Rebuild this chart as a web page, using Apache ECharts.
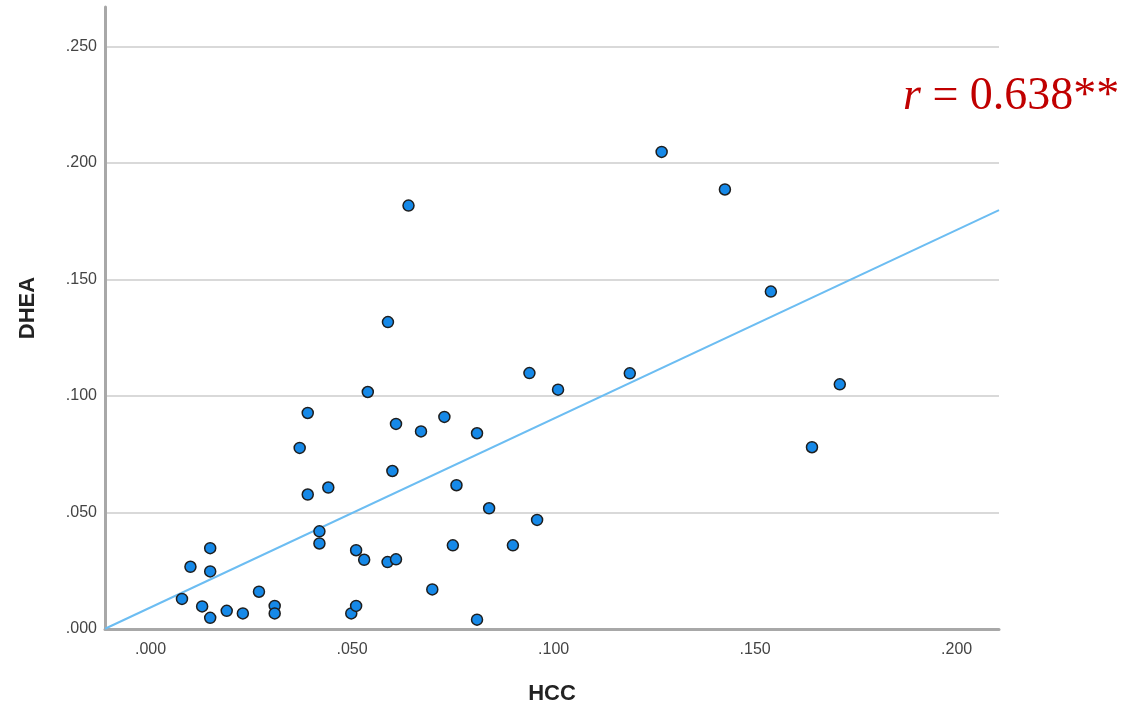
<!DOCTYPE html>
<html>
<head>
<meta charset="utf-8">
<script src="https://cdn.jsdelivr.net/npm/echarts@6/dist/echarts.min.js"></script>
<style>
html,body{margin:0;padding:0;background:#fff;}
#chart{width:1132px;height:710px;}
</style>
</head>
<body>
<div id="chart"></div>
<script>
// HCC values (x)
const hcc = [0.0078,0.0099,0.0148,0.0148,0.0128,0.0148,0.0189,0.0229,0.0269,0.0308,0.0308,
  0.0370,0.0390,0.0390,0.0441,0.0419,0.0419,0.0498,0.0510,0.0510,0.0530,0.0539,0.0588,0.0609,
  0.0600,0.0609,0.0671,0.0729,0.0699,0.0750,0.0759,0.0810,0.0840,0.0959,0.0899,0.0810,0.0640,
  0.0589,0.0940,0.1011,0.1189,0.1268,0.1425,0.1539,0.1641,0.1710];
// DHEA values (y)
const dhea = [0.0129,0.0267,0.0347,0.0247,0.0097,0.0048,0.0078,0.0067,0.0160,0.0099,0.0067,
  0.0777,0.0927,0.0577,0.0607,0.0419,0.0367,0.0067,0.0099,0.0338,0.0297,0.1017,0.0287,0.0299,
  0.0678,0.0880,0.0848,0.0910,0.0170,0.0359,0.0617,0.0840,0.0518,0.0468,0.0359,0.0040,0.1817,
  0.1317,0.1098,0.1027,0.1097,0.2047,0.1886,0.1448,0.0780,0.1050];
// fit line endpoints
const fitX = [-0.0113, 0.2105];
const fitY = [0.0001, 0.1797];
const xTicks = ['.000','.050','.100','.150','.200'];
const yTicks = ['.000','.050','.100','.150','.200','.250'];
const annotation = { r: 'r', rest: ' = 0.638**' };

const points = hcc.map((v, i) => [v, dhea[i]]);
const fitLine = fitX.map((v, i) => [v, fitY[i]]);
const tickLabel = (list) => (v) => {
  const q = v / 0.05;
  const k = Math.round(q);
  if (Math.abs(q - k) > 1e-6) return '';
  return list[k] !== undefined ? list[k] : '';
};

const chart = echarts.init(document.getElementById('chart'), null, {renderer: 'canvas'});
chart.setOption({
  animation: false,
  backgroundColor: '#ffffff',
  grid: {left: 105, top: 7, width: 894, height: 623, containLabel: false},
  xAxis: {
    type: 'value', min: -0.0113, max: 0.2105,
    name: 'HCC', nameLocation: 'middle', nameGap: 54,
    nameTextStyle: {fontFamily: 'Liberation Sans, Arial', fontWeight: 'bold', fontSize: 22, color: '#222'},
    axisLine: {show: true, onZero: false, lineStyle: {color: '#a8a8a8', width: 3}},
    axisTick: {show: false},
    splitLine: {show: false},
    axisLabel: {
      margin: 13, fontFamily: 'Liberation Sans, Arial', fontSize: 16, color: '#444',
      hideOverlap: false,
      formatter: tickLabel(xTicks)
    }
  },
  yAxis: {
    type: 'value', min: 0, max: 0.2669, interval: 0.05,
    name: 'DHEA', nameLocation: 'middle', nameGap: 66, nameRotate: 90,
    nameTextStyle: {fontFamily: 'Liberation Sans, Arial', fontWeight: 'bold', fontSize: 22, color: '#222', padding: [0, 0, 0, 20]},
    axisLine: {show: true, onZero: false, lineStyle: {color: '#a8a8a8', width: 3}},
    axisTick: {show: false},
    splitLine: {show: true, showMaxLine: false, lineStyle: {color: '#d9d9d9', width: 2}},
    axisLabel: {
      margin: 8, fontFamily: 'Liberation Sans, Arial', fontSize: 16, color: '#444',
      formatter: tickLabel(yTicks)
    }
  },
  series: [
    {
      type: 'line', data: fitLine, symbol: 'none', z: 2,
      lineStyle: {color: '#6cbdf2', width: 2}
    },
    {
      type: 'scatter', data: points, symbol: 'circle', symbolSize: 11, z: 3,
      itemStyle: {color: '#1689e8', borderColor: '#1e1e1e', borderWidth: 1.5, opacity: 1}
    }
  ],
  graphic: [{
    type: 'text', left: 903, top: 74,
    style: {
      text: '{i|' + annotation.r + '}{n|' + annotation.rest + '}',
      rich: {
        i: {fontFamily: 'Liberation Serif, Times New Roman', fontStyle: 'italic', fontSize: 46, fill: '#c00000'},
        n: {fontFamily: 'Liberation Serif, Times New Roman', fontSize: 46, fill: '#c00000'}
      }
    }
  }]
});
</script>
</body>
</html>
